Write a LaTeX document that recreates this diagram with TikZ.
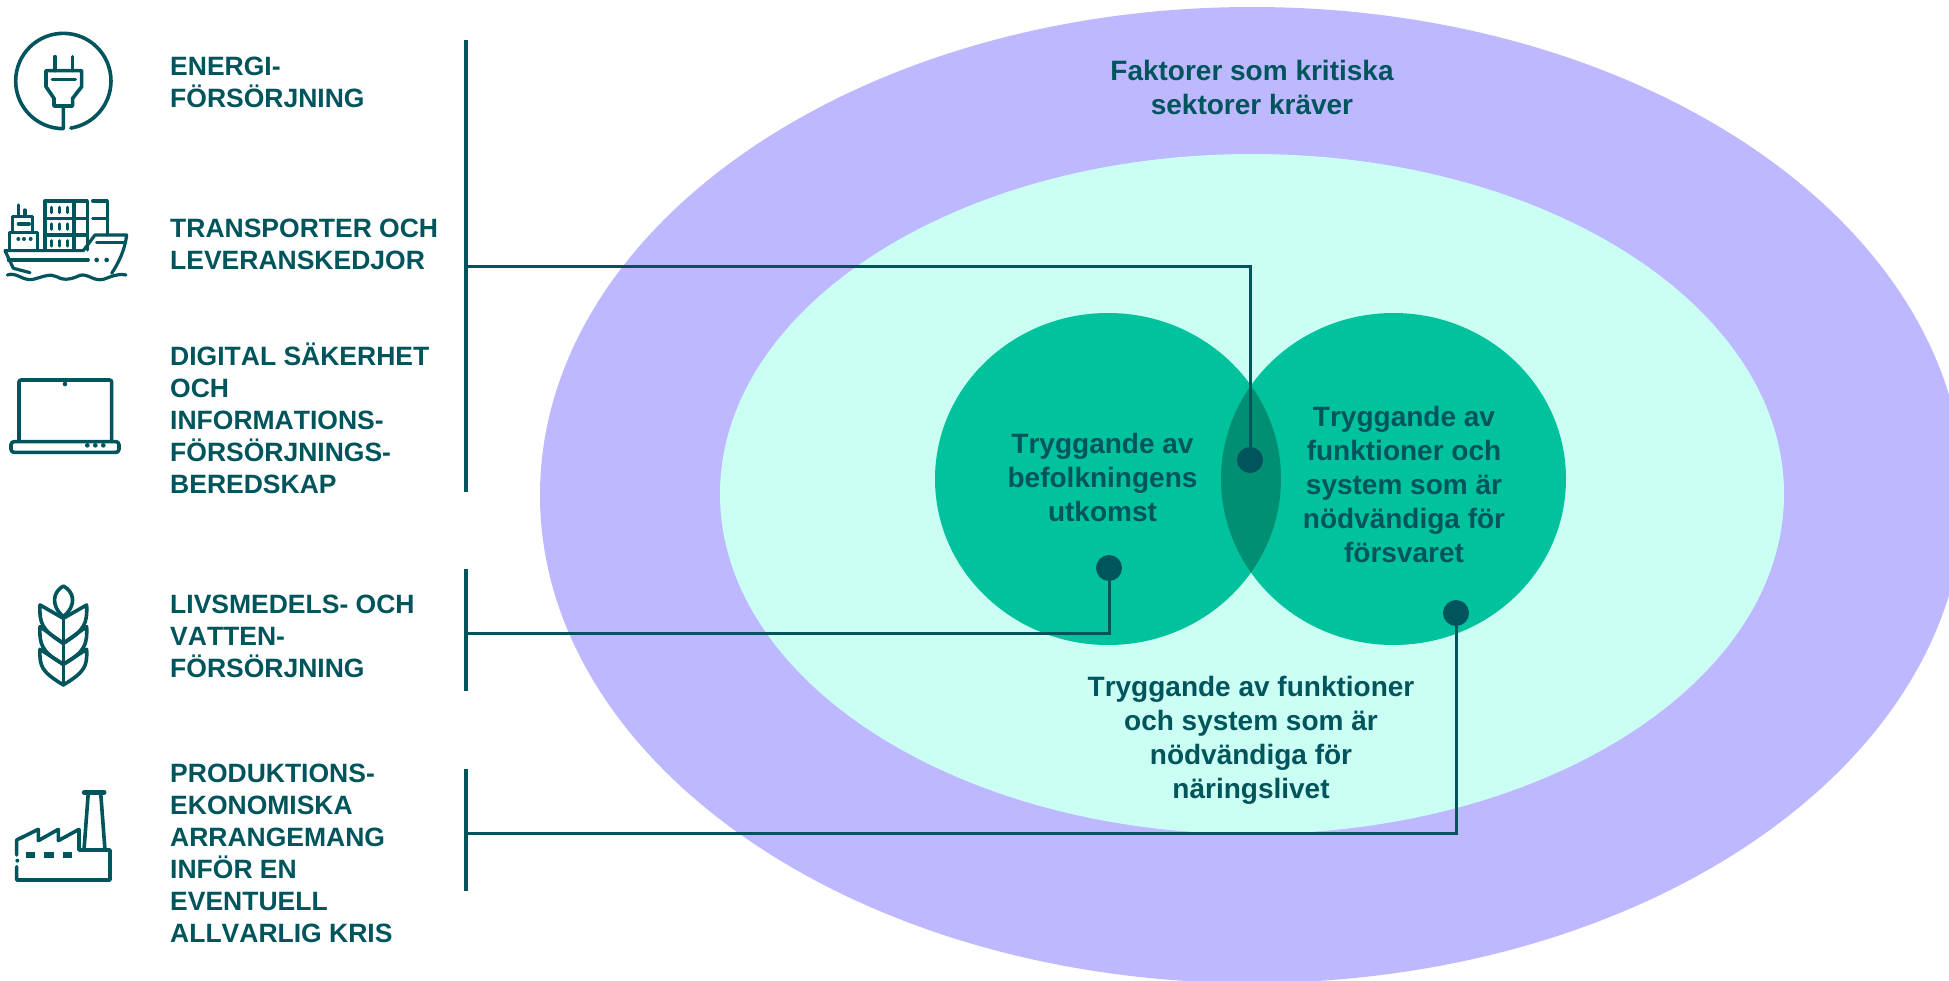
\documentclass[tikz,border=0pt]{standalone}
\usepackage{fontspec}
\setmainfont[Kerning=Off]{Liberation Sans}
\usepackage{tikz}
\usetikzlibrary{shapes.geometric}

\definecolor{darkteal}{HTML}{00545C}
\definecolor{outerfill}{HTML}{BDB8FF}
\definecolor{innerfill}{HTML}{CCFFF3}
\definecolor{circlefill}{HTML}{00C29D}
\definecolor{lensfill}{HTML}{008F72}

\tikzset{
    sector/.style={anchor=west, align=left, inner sep=0pt, text=darkteal,
        font=\fontsize{26.5}{32}\selectfont\bfseries},
    factor/.style={align=center, inner sep=0pt, text=darkteal,
        font=\fontsize{28}{34}\selectfont\bfseries},
    connector/.style={color=darkteal, line width=3pt},
    bar/.style={color=darkteal, line width=3.3pt},
    joint/.style={circle, fill=darkteal, minimum size=26pt, inner sep=0pt},
    icon/.style={color=darkteal, line width=3.6pt, line cap=round, line join=round},
    icondot/.style={fill=darkteal, draw=none},
    zoomed/.style={x=0.3333pt, y=-0.3333pt},
}

\begin{document}
\begin{tikzpicture}[x=1pt, y=-1pt]
    \useasboundingbox (0,0) rectangle (1949,980);

    \begin{scope}
        \clip (0,0) rectangle (1949,980);
        \fill[outerfill] (1252,495) ellipse [x radius=712, y radius=488];
        \fill[innerfill] (1252,494) ellipse [x radius=532, y radius=340];
        \fill[circlefill] (1108,479) ellipse [x radius=173, y radius=166];
        \fill[circlefill] (1393.5,479) ellipse [x radius=172.5, y radius=166];
        % overlap of the two circles
        \begin{scope}
            \clip (1108,479) ellipse [x radius=173, y radius=166];
            \fill[lensfill] (1393.5,479) ellipse [x radius=172.5, y radius=166];
        \end{scope}
    \end{scope}

    % Bars beside the sector labels
    \coordinate (baratop) at (466,40);
    \coordinate (barabot) at (466,492);
    \coordinate (barbtop) at (466,569);
    \coordinate (barbbot) at (466,691);
    \coordinate (barctop) at (466,769);
    \coordinate (barcbot) at (466,891);
    \coordinate (bararm) at (466,266);
    \coordinate (barbrm) at (466,633);
    \coordinate (barcrm) at (466,833);
    \draw[bar] (baratop) -- (barabot);
    \draw[bar] (barbtop) -- (barbbot);
    \draw[bar] (barctop) -- (barcbot);

    \node[joint] (jointa) at (1250,460) {};
    \node[joint] (jointb) at (1109,568) {};
    \node[joint] (jointc) at (1456,613) {};
    \draw[connector] (bararm) -| (jointa);
    \draw[connector] (barbrm) -| (jointb);
    \draw[connector] (barcrm) -| (jointc);

    % Sector labels
    \node[sector] (energy) at (170,82) {ENERGI-\\FÖRSÖRJNING};
    \node[sector] (transport) at (170,244) {TRANSPORTER OCH\\LEVERANSKEDJOR};
    \node[sector] (digital) at (170,418) {DIGITAL SÄKERHET\\OCH\\INFORMATIONS-\\FÖRSÖRJNINGS-\\BEREDSKAP};
    \node[sector] (food) at (170,636) {LIVSMEDELS- OCH\\VATTEN-\\FÖRSÖRJNING};
    \node[sector] (production) at (170,853) {PRODUKTIONS-\\EKONOMISKA\\ARRANGEMANG\\INFÖR EN\\EVENTUELL\\ALLVARLIG KRIS};

    % Factor labels
    \node[factor] (factors) at (1252,87) {Faktorer som kritiska\\sektorer kräver};
    \node[factor] (people) at (1102.5,477) {Tryggande av\\befolkningens\\utkomst};
    \node[factor] (defence) at (1404,484) {Tryggande av\\funktioner och\\system som är\\nödvändiga för\\försvaret};
    \node[factor] (business) at (1251,740) {Tryggande av funktioner\\och system som är\\nödvändiga för\\näringslivet};

    % Plug
    \begin{scope}[zoomed]
        \draw[icon] (190,386) arc [start angle=90, end angle=441, radius=143];
        \draw[icon] (190,385) -- (190,318) -- (162,318) -- (162,295) -- (138,260) -- (138,212) -- (245,212)
            -- (245,260) -- (218,295) -- (218,318) -- (190,318);
        \draw[icon] (165,170) -- (165,212);
        \draw[icon] (217,170) -- (217,212);
        \draw[icon] (157,238) -- (226,238);
    \end{scope}

    % Ship
    \begin{scope}[zoomed, icon/.append style={line width=3.2pt}]
        \draw[icon] (40,805) -- (15,752) -- (250,752) -- (285,705) -- (380,705)
            .. controls (375,750) and (355,790) .. (335,820);
        \draw[icon] (40,805) -- (90,818);
        \draw[icon] (25,780) -- (265,780);
        \draw[icon] (290,728) -- (375,728);
        \fill[icondot] (290,780) circle (7);
        \fill[icondot] (320,780) circle (7);
        \draw[icon] (22,825) .. controls (50,815) and (70,845) .. (100,838)
            .. controls (130,830) and (150,820) .. (170,830)
            .. controls (195,845) and (220,835) .. (240,826)
            .. controls (265,820) and (280,845) .. (310,838)
            .. controls (335,830) and (350,820) .. (378,825);
        % containers
        \draw[icon] (135,750) -- (135,603) -- (262,603) -- (262,750);
        \draw[icon] (222,603) -- (222,750);
        \draw[icon] (135,655) -- (262,655);
        \draw[icon] (135,705) -- (262,705);
        \draw[icon] (278,603) -- (322,603) -- (322,705);
        \draw[icon] (278,655) -- (322,655);
        \foreach \cy in {630,680,730}
            \foreach \cx in {155,178,203}
                \draw[icon] (\cx,\cy-8) -- (\cx,\cy+8);
        % bridge
        \draw[icon] (28,750) -- (28,697) -- (112,697) -- (112,750);
        \draw[icon] (38,697) -- (38,650) -- (97,650) -- (97,697);
        \draw[icon] (55,672) -- (88,672);
        \draw[icon] (55,615) -- (55,650);
        \draw[icon] (75,630) -- (75,650);
        \foreach \cx in {55,72,92}
            \fill[icondot] (\cx,717) circle (6);
    \end{scope}

    % Laptop
    \begin{scope}[zoomed, yshift=-360pt]
        \draw[icon, rounded corners=2pt] (57,245) -- (57,60) -- (335,60) -- (335,245);
        \draw[icon, rounded corners=3pt] (33,245) rectangle (357,277);
        \fill[icondot] (195,72) circle (7);
        \foreach \cx in {262,286,310}
            \fill[icondot] (\cx,256) circle (7);
    \end{scope}

    % Wheat
    \begin{scope}[zoomed, yshift=-360pt]
        \draw[icon] (190,770) -- (190,975);
        \draw[icon] (190,770) .. controls (150,735) and (160,695) .. (190,678)
            .. controls (222,695) and (232,735) .. (190,770);
        \foreach \sgn in {1,-1} {
            \draw[icon] (190,775) -- (190-\sgn*70,735)
                .. controls (190-\sgn*72,790) and (190-\sgn*65,810) .. (190,850);
            \draw[icon] (190,850) -- (190-\sgn*70,800)
                .. controls (190-\sgn*72,855) and (190-\sgn*65,875) .. (190,913);
            \draw[icon] (190,913) -- (190-\sgn*70,868)
                .. controls (190-\sgn*72,920) and (190-\sgn*65,935) .. (190,975);
        }
    \end{scope}

    % Factory
    \begin{scope}[zoomed, yshift=-770pt]
        \draw[icon] (50,290) -- (50,330) -- (330,330) -- (330,240) -- (237,240) -- (237,178)
            -- (175,212) -- (175,178) -- (115,212) -- (115,178) -- (50,210) -- (50,255);
        \fill[icondot] (52,272) circle (6);
        \foreach \dx in {78,133,188}
            \fill[icondot] (\dx,247) rectangle (\dx+28,264);
        \draw[icon] (252,240) -- (265,67);
        \draw[icon] (302,67) -- (315,240);
        \draw[icon, line width=5pt] (253,67) -- (312,67);
    \end{scope}
\end{tikzpicture}
\end{document}
